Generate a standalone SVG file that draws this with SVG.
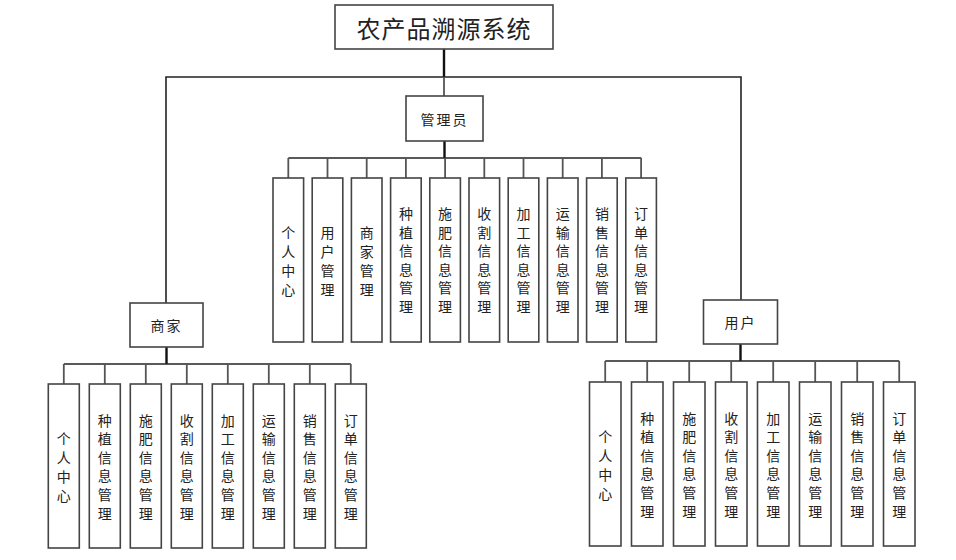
<svg xmlns="http://www.w3.org/2000/svg" width="956" height="560" viewBox="0 0 956 560">
<style>
  .box { fill: #ffffff; stroke: #444444; stroke-width: 1.6; }
  .shadow { fill: none; stroke: #d8dce6; stroke-width: 2; }
  .lbl { font-family: "Noto Sans CJK SC", sans-serif; font-size: 14px; fill: #222222; text-anchor: middle; dominant-baseline: central; }
  .title { font-family: "Noto Sans CJK SC", sans-serif; font-size: 24px; fill: #222222; text-anchor: middle; dominant-baseline: central; letter-spacing: 1px; }
  .bus { fill: none; stroke: #222222; stroke-width: 1.6; }
  .trunk { fill: none; stroke: #111111; stroke-width: 2.4; }
  .stub { fill: none; stroke: #555555; stroke-width: 1.8; }
</style>

<g id="connectors">
  <!-- root -->
  <line class="trunk" x1="444" y1="49" x2="444" y2="77"/>
  <polyline class="bus" points="166,303 166,77 741,77 741,300"/>
  <line class="stub" x1="444" y1="77" x2="444" y2="96"/>
  <!-- admin -->
  <line class="trunk" x1="444.5" y1="141" x2="444.5" y2="158"/>
  <line class="bus" x1="288.3" y1="158" x2="641.3" y2="158"/>
  <g class="stub">
    <line x1="288.3" y1="158" x2="288.3" y2="178"/>
    <line x1="327.5" y1="158" x2="327.5" y2="178"/>
    <line x1="366.7" y1="158" x2="366.7" y2="178"/>
    <line x1="405.9" y1="158" x2="405.9" y2="178"/>
    <line x1="445.1" y1="158" x2="445.1" y2="178"/>
    <line x1="484.3" y1="158" x2="484.3" y2="178"/>
    <line x1="523.5" y1="158" x2="523.5" y2="178"/>
    <line x1="562.7" y1="158" x2="562.7" y2="178"/>
    <line x1="601.9" y1="158" x2="601.9" y2="178"/>
    <line x1="641.1" y1="158" x2="641.1" y2="178"/>
  </g>
  <!-- merchant -->
  <line class="trunk" x1="166.5" y1="347" x2="166.5" y2="364"/>
  <line class="bus" x1="63.8" y1="364" x2="350.8" y2="364"/>
  <g class="stub">
    <line x1="63.8" y1="364" x2="63.8" y2="384"/>
    <line x1="104.8" y1="364" x2="104.8" y2="384"/>
    <line x1="145.8" y1="364" x2="145.8" y2="384"/>
    <line x1="186.8" y1="364" x2="186.8" y2="384"/>
    <line x1="227.8" y1="364" x2="227.8" y2="384"/>
    <line x1="268.8" y1="364" x2="268.8" y2="384"/>
    <line x1="309.8" y1="364" x2="309.8" y2="384"/>
    <line x1="350.8" y1="364" x2="350.8" y2="384"/>
  </g>
  <!-- user -->
  <line class="trunk" x1="740.5" y1="344" x2="740.5" y2="361"/>
  <line class="bus" x1="605.2" y1="361" x2="899.2" y2="361"/>
  <g class="stub">
    <line x1="605.2" y1="361" x2="605.2" y2="382"/>
    <line x1="647.2" y1="361" x2="647.2" y2="382"/>
    <line x1="689.2" y1="361" x2="689.2" y2="382"/>
    <line x1="731.2" y1="361" x2="731.2" y2="382"/>
    <line x1="773.2" y1="361" x2="773.2" y2="382"/>
    <line x1="815.2" y1="361" x2="815.2" y2="382"/>
    <line x1="857.2" y1="361" x2="857.2" y2="382"/>
    <line x1="899.2" y1="361" x2="899.2" y2="382"/>
  </g>
</g>

<g id="root">
  <rect class="box" x="335" y="5" width="218" height="44"/>
  <text class="title" x="444" y="27">农产品溯源系统</text>
</g>

<g id="admin">
  <rect class="box" x="406" y="96" width="77" height="45"/>
  <text class="lbl" x="444.5" y="119" letter-spacing="2">管理员</text>
</g>
<g id="merchant">
  <rect class="box" x="130" y="303" width="73" height="44"/>
  <text class="lbl" x="166.5" y="325" letter-spacing="2">商家</text>
</g>
<g id="user">
  <rect class="box" x="703.5" y="300" width="74" height="44"/>
  <text class="lbl" x="740.5" y="322" letter-spacing="2">用户</text>
</g>

<!-- admin children: boxes y 178-342, center 260 -->
<g id="a1"><rect class="box" x="273" y="178" width="30.6" height="164"/>
  <text class="lbl"><tspan x="288.3" y="231.5">个</tspan><tspan x="288.3" dy="19">人</tspan><tspan x="288.3" dy="19">中</tspan><tspan x="288.3" dy="19">心</tspan></text></g>
<g id="a2"><rect class="box" x="312.2" y="178" width="30.6" height="164"/>
  <text class="lbl"><tspan x="327.5" y="231.5">用</tspan><tspan x="327.5" dy="19">户</tspan><tspan x="327.5" dy="19">管</tspan><tspan x="327.5" dy="19">理</tspan></text></g>
<g id="a3"><rect class="box" x="351.4" y="178" width="30.6" height="164"/>
  <text class="lbl"><tspan x="366.7" y="231.5">商</tspan><tspan x="366.7" dy="19">家</tspan><tspan x="366.7" dy="19">管</tspan><tspan x="366.7" dy="19">理</tspan></text></g>
<g id="a4"><rect class="box" x="390.6" y="178" width="30.6" height="164"/>
  <text class="lbl"><tspan x="405.9" y="213">种</tspan><tspan x="405.9" dy="18.6">植</tspan><tspan x="405.9" dy="18.6">信</tspan><tspan x="405.9" dy="18.6">息</tspan><tspan x="405.9" dy="18.6">管</tspan><tspan x="405.9" dy="18.6">理</tspan></text></g>
<g id="a5"><rect class="box" x="429.8" y="178" width="30.6" height="164"/>
  <text class="lbl"><tspan x="445.1" y="213">施</tspan><tspan x="445.1" dy="18.6">肥</tspan><tspan x="445.1" dy="18.6">信</tspan><tspan x="445.1" dy="18.6">息</tspan><tspan x="445.1" dy="18.6">管</tspan><tspan x="445.1" dy="18.6">理</tspan></text></g>
<g id="a6"><rect class="box" x="469" y="178" width="30.6" height="164"/>
  <text class="lbl"><tspan x="484.3" y="213">收</tspan><tspan x="484.3" dy="18.6">割</tspan><tspan x="484.3" dy="18.6">信</tspan><tspan x="484.3" dy="18.6">息</tspan><tspan x="484.3" dy="18.6">管</tspan><tspan x="484.3" dy="18.6">理</tspan></text></g>
<g id="a7"><rect class="box" x="508.2" y="178" width="30.6" height="164"/>
  <text class="lbl"><tspan x="523.5" y="213">加</tspan><tspan x="523.5" dy="18.6">工</tspan><tspan x="523.5" dy="18.6">信</tspan><tspan x="523.5" dy="18.6">息</tspan><tspan x="523.5" dy="18.6">管</tspan><tspan x="523.5" dy="18.6">理</tspan></text></g>
<g id="a8"><rect class="box" x="547.4" y="178" width="30.6" height="164"/>
  <text class="lbl"><tspan x="562.7" y="213">运</tspan><tspan x="562.7" dy="18.6">输</tspan><tspan x="562.7" dy="18.6">信</tspan><tspan x="562.7" dy="18.6">息</tspan><tspan x="562.7" dy="18.6">管</tspan><tspan x="562.7" dy="18.6">理</tspan></text></g>
<g id="a9"><rect class="box" x="586.6" y="178" width="30.6" height="164"/>
  <text class="lbl"><tspan x="601.9" y="213">销</tspan><tspan x="601.9" dy="18.6">售</tspan><tspan x="601.9" dy="18.6">信</tspan><tspan x="601.9" dy="18.6">息</tspan><tspan x="601.9" dy="18.6">管</tspan><tspan x="601.9" dy="18.6">理</tspan></text></g>
<g id="a10"><rect class="box" x="625.8" y="178" width="30.6" height="164"/>
  <text class="lbl"><tspan x="641.1" y="213">订</tspan><tspan x="641.1" dy="18.6">单</tspan><tspan x="641.1" dy="18.6">信</tspan><tspan x="641.1" dy="18.6">息</tspan><tspan x="641.1" dy="18.6">管</tspan><tspan x="641.1" dy="18.6">理</tspan></text></g>

<!-- merchant children: boxes y 384-548, center 466 -->
<g id="m1"><rect class="box" x="48.3" y="384" width="31" height="164"/>
  <text class="lbl"><tspan x="63.8" y="437.5">个</tspan><tspan x="63.8" dy="19">人</tspan><tspan x="63.8" dy="19">中</tspan><tspan x="63.8" dy="19">心</tspan></text></g>
<g id="m2"><rect class="box" x="89.3" y="384" width="31" height="164"/>
  <text class="lbl"><tspan x="104.8" y="419.5">种</tspan><tspan x="104.8" dy="18.6">植</tspan><tspan x="104.8" dy="18.6">信</tspan><tspan x="104.8" dy="18.6">息</tspan><tspan x="104.8" dy="18.6">管</tspan><tspan x="104.8" dy="18.6">理</tspan></text></g>
<g id="m3"><rect class="box" x="130.3" y="384" width="31" height="164"/>
  <text class="lbl"><tspan x="145.8" y="419.5">施</tspan><tspan x="145.8" dy="18.6">肥</tspan><tspan x="145.8" dy="18.6">信</tspan><tspan x="145.8" dy="18.6">息</tspan><tspan x="145.8" dy="18.6">管</tspan><tspan x="145.8" dy="18.6">理</tspan></text></g>
<g id="m4"><rect class="box" x="171.3" y="384" width="31" height="164"/>
  <text class="lbl"><tspan x="186.8" y="419.5">收</tspan><tspan x="186.8" dy="18.6">割</tspan><tspan x="186.8" dy="18.6">信</tspan><tspan x="186.8" dy="18.6">息</tspan><tspan x="186.8" dy="18.6">管</tspan><tspan x="186.8" dy="18.6">理</tspan></text></g>
<g id="m5"><rect class="box" x="212.3" y="384" width="31" height="164"/>
  <text class="lbl"><tspan x="227.8" y="419.5">加</tspan><tspan x="227.8" dy="18.6">工</tspan><tspan x="227.8" dy="18.6">信</tspan><tspan x="227.8" dy="18.6">息</tspan><tspan x="227.8" dy="18.6">管</tspan><tspan x="227.8" dy="18.6">理</tspan></text></g>
<g id="m6"><rect class="box" x="253.3" y="384" width="31" height="164"/>
  <text class="lbl"><tspan x="268.8" y="419.5">运</tspan><tspan x="268.8" dy="18.6">输</tspan><tspan x="268.8" dy="18.6">信</tspan><tspan x="268.8" dy="18.6">息</tspan><tspan x="268.8" dy="18.6">管</tspan><tspan x="268.8" dy="18.6">理</tspan></text></g>
<g id="m7"><rect class="box" x="294.3" y="384" width="31" height="164"/>
  <text class="lbl"><tspan x="309.8" y="419.5">销</tspan><tspan x="309.8" dy="18.6">售</tspan><tspan x="309.8" dy="18.6">信</tspan><tspan x="309.8" dy="18.6">息</tspan><tspan x="309.8" dy="18.6">管</tspan><tspan x="309.8" dy="18.6">理</tspan></text></g>
<g id="m8"><rect class="box" x="335.3" y="384" width="31" height="164"/>
  <text class="lbl"><tspan x="350.8" y="419.5">订</tspan><tspan x="350.8" dy="18.6">单</tspan><tspan x="350.8" dy="18.6">信</tspan><tspan x="350.8" dy="18.6">息</tspan><tspan x="350.8" dy="18.6">管</tspan><tspan x="350.8" dy="18.6">理</tspan></text></g>

<!-- user children: boxes y 382-546, center 464 -->
<g id="u1"><rect class="box" x="589.5" y="382" width="31.5" height="164"/>
  <text class="lbl"><tspan x="605.2" y="435.5">个</tspan><tspan x="605.2" dy="19">人</tspan><tspan x="605.2" dy="19">中</tspan><tspan x="605.2" dy="19">心</tspan></text></g>
<g id="u2"><rect class="box" x="631.5" y="382" width="31.5" height="164"/>
  <text class="lbl"><tspan x="647.2" y="417.5">种</tspan><tspan x="647.2" dy="18.6">植</tspan><tspan x="647.2" dy="18.6">信</tspan><tspan x="647.2" dy="18.6">息</tspan><tspan x="647.2" dy="18.6">管</tspan><tspan x="647.2" dy="18.6">理</tspan></text></g>
<g id="u3"><rect class="box" x="673.5" y="382" width="31.5" height="164"/>
  <text class="lbl"><tspan x="689.2" y="417.5">施</tspan><tspan x="689.2" dy="18.6">肥</tspan><tspan x="689.2" dy="18.6">信</tspan><tspan x="689.2" dy="18.6">息</tspan><tspan x="689.2" dy="18.6">管</tspan><tspan x="689.2" dy="18.6">理</tspan></text></g>
<g id="u4"><rect class="box" x="715.5" y="382" width="31.5" height="164"/>
  <text class="lbl"><tspan x="731.2" y="417.5">收</tspan><tspan x="731.2" dy="18.6">割</tspan><tspan x="731.2" dy="18.6">信</tspan><tspan x="731.2" dy="18.6">息</tspan><tspan x="731.2" dy="18.6">管</tspan><tspan x="731.2" dy="18.6">理</tspan></text></g>
<g id="u5"><rect class="box" x="757.5" y="382" width="31.5" height="164"/>
  <text class="lbl"><tspan x="773.2" y="417.5">加</tspan><tspan x="773.2" dy="18.6">工</tspan><tspan x="773.2" dy="18.6">信</tspan><tspan x="773.2" dy="18.6">息</tspan><tspan x="773.2" dy="18.6">管</tspan><tspan x="773.2" dy="18.6">理</tspan></text></g>
<g id="u6"><rect class="box" x="799.5" y="382" width="31.5" height="164"/>
  <text class="lbl"><tspan x="815.2" y="417.5">运</tspan><tspan x="815.2" dy="18.6">输</tspan><tspan x="815.2" dy="18.6">信</tspan><tspan x="815.2" dy="18.6">息</tspan><tspan x="815.2" dy="18.6">管</tspan><tspan x="815.2" dy="18.6">理</tspan></text></g>
<g id="u7"><rect class="box" x="841.5" y="382" width="31.5" height="164"/>
  <text class="lbl"><tspan x="857.2" y="417.5">销</tspan><tspan x="857.2" dy="18.6">售</tspan><tspan x="857.2" dy="18.6">信</tspan><tspan x="857.2" dy="18.6">息</tspan><tspan x="857.2" dy="18.6">管</tspan><tspan x="857.2" dy="18.6">理</tspan></text></g>
<g id="u8"><rect class="box" x="883.5" y="382" width="31.5" height="164"/>
  <text class="lbl"><tspan x="899.2" y="417.5">订</tspan><tspan x="899.2" dy="18.6">单</tspan><tspan x="899.2" dy="18.6">信</tspan><tspan x="899.2" dy="18.6">息</tspan><tspan x="899.2" dy="18.6">管</tspan><tspan x="899.2" dy="18.6">理</tspan></text></g>
</svg>
